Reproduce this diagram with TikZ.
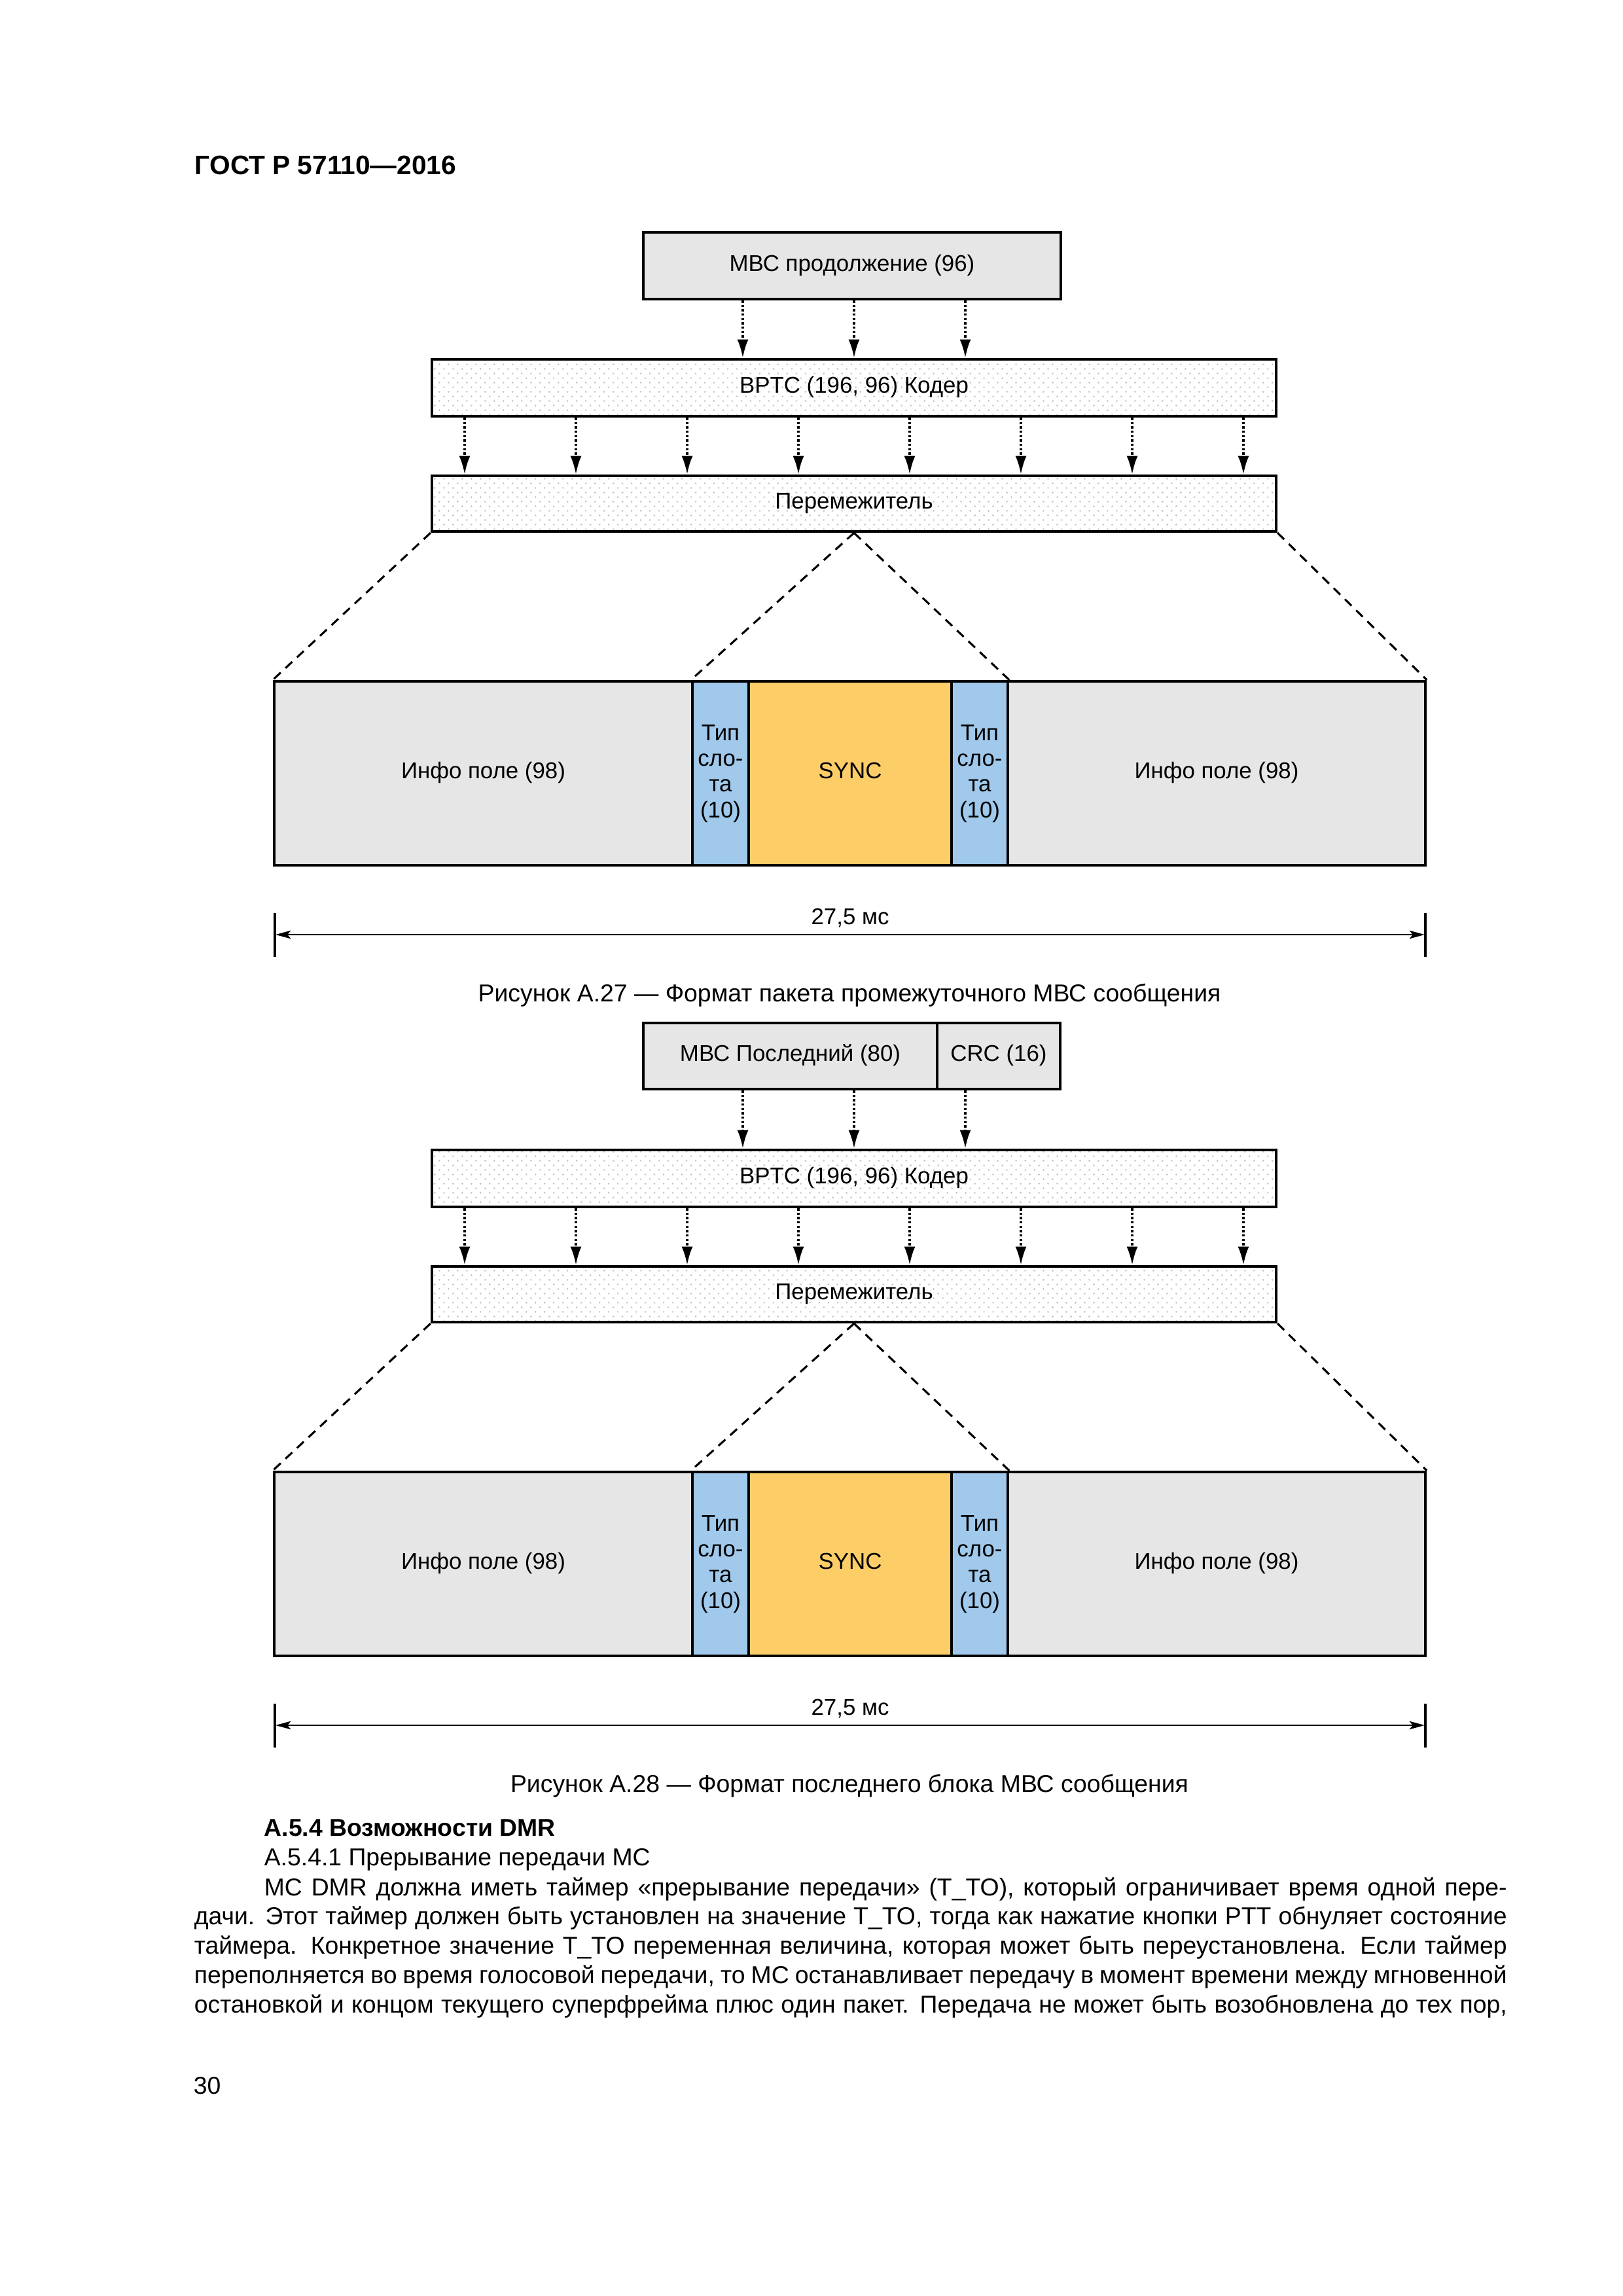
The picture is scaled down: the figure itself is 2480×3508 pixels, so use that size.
\documentclass[tikz,border=0pt]{standalone}
\usepackage{fontspec}
\setmainfont{Liberation Sans}
\usetikzlibrary{arrows.meta,patterns,calc}
\definecolor{boxgray}{RGB}{230,230,230}
\definecolor{slotblue}{RGB}{160,201,235}
\definecolor{syncyel}{RGB}{253,205,104}
\pgfdeclarepatternformonly{stagdots}{\pgfqpoint{-0.4pt}{-0.4pt}}{\pgfqpoint{2.1pt}{2.1pt}}{\pgfqpoint{3.37pt}{3.37pt}}{%
  \pgfpathcircle{\pgfqpoint{0pt}{0pt}}{0.34pt}%
  \pgfpathcircle{\pgfqpoint{1.685pt}{1.685pt}}{0.34pt}%
  \pgfusepath{fill}}
% \boxat{name}{x1}{y1}{x2}{y2}{style}{text}
\newcommand\boxat[7]{\node[#6, minimum width={((#4)-(#2))*0.24093pt}, minimum height={((#5)-(#3))*0.24093pt}, anchor=center] (#1) at ({((#2)+(#4))/2},{((#3)+(#5))/2}) {#7};}
\newcommand\figbody[2]{%
  \boxat{#1bptc}{660}{549+#2}{1950}{636+#2}{dotbox}{BPTC (196, 96) Кодер}
  \boxat{#1intl}{660}{727+#2}{1950}{812+#2}{dotbox}{Перемежитель}
  \foreach \xx [count=\i] in {710,880,1050,1220,1390,1560,1730,1900}{
    \coordinate (#1ax\i) at (\xx,0);
    \draw[flow] (#1bptc.south -| #1ax\i) -- (#1intl.north -| #1ax\i);
  }
  \boxat{#1infoL}{419}{1041+#2}{1058}{1322+#2}{graybox}{Инфо поле (98)}
  \boxat{#1blueL}{1058}{1041+#2}{1144}{1322+#2}{bluebox}{}
  \boxat{#1sync}{1144}{1041+#2}{1454}{1322+#2}{syncbox}{SYNC}
  \boxat{#1blueR}{1454}{1041+#2}{1540}{1322+#2}{bluebox}{}
  \boxat{#1infoR}{1540}{1041+#2}{2178}{1322+#2}{graybox}{Инфо поле (98)}
  \node[slot] (#1tl1) at (1101,1131+#2) {Тип};
  \node[slot] (#1tl2) at (1101,1170+#2) {сло-};
  \node[slot] (#1tl3) at (1101,1209+#2) {та};
  \node[slot] (#1tl4) at (1101,1249+#2) {(10)};
  \node[slot] (#1tr1) at (1497,1131+#2) {Тип};
  \node[slot] (#1tr2) at (1497,1170+#2) {сло-};
  \node[slot] (#1tr3) at (1497,1209+#2) {та};
  \node[slot] (#1tr4) at (1497,1249+#2) {(10)};
  \draw[zoomline] (#1intl.south west) -- (#1infoL.north west);
  \draw[zoomline] (#1intl.south) -- (#1blueL.north west);
  \draw[zoomline] (#1intl.south) -- (#1blueR.north east);
  \draw[zoomline] (#1intl.south east) -- (#1infoR.north east);
  \coordinate (#1tka) at (420,1395+#2);
  \coordinate (#1tkb) at (420,1462+#2);
  \coordinate (#1tkc) at (2178,1395+#2);
  \coordinate (#1tkd) at (2178,1462+#2);
  \coordinate (#1dl) at (421,1428+#2);
  \coordinate (#1dr) at (2177,1428+#2);
  \draw[tickline] (#1tka) -- (#1tkb);
  \draw[tickline] (#1tkc) -- (#1tkd);
  \draw[dimline] (#1dl) -- (#1dr);
  \node[lblbase] (#1dimlbl) at (1299,1412+#2) {27,5 мс};
}
\begin{document}
\begin{tikzpicture}[x=0.24093pt,y=-0.24093pt,
  box/.style={draw=black, line width=1.05pt, inner sep=0pt, font=\fontsize{8.4}{10}\selectfont, text height=0.7em, text depth=0.3em},
  graybox/.style={box, fill=boxgray},
  bluebox/.style={box, fill=slotblue},
  syncbox/.style={box, fill=syncyel},
  dotbox/.style={box, pattern=stagdots, pattern color=black!24},
  slot/.style={font=\fontsize{8.4}{10}\selectfont, inner sep=0pt, anchor=base},
  lblbase/.style={font=\fontsize{8.4}{10}\selectfont, inner sep=0pt, anchor=base},
  flow/.style={line width=0.8pt, dash pattern=on 0.8pt off 0.8pt, -{Latex[length=6.8pt,width=4.1pt]}},
  zoomline/.style={line width=0.75pt, dash pattern=on 3.4pt off 2.4pt},
  dimline/.style={line width=0.65pt, {Stealth[length=5.6pt,width=3pt,inset=1.2pt]}-{Stealth[length=5.6pt,width=3pt,inset=1.2pt]}},
  tickline/.style={line width=0.75pt},
  figcaption/.style={font=\fontsize{9}{11}\selectfont, inner sep=0pt, anchor=base},
  bodytext/.style={font=\fontsize{9}{11}\selectfont, inner sep=0pt, anchor=base west},
]
\useasboundingbox[fill=white] (0,0) rectangle (2480,3508);
% header
\node[anchor=base west, inner sep=0pt, font=\fontsize{9.8}{12}\selectfont\bfseries] (hdr) at (297,266) {ГОСТ Р 57110—2016};
% figure A.27
\boxat{mbc}{983}{355}{1621}{457}{graybox}{МВС продолжение (96)}
\figbody{a}{0}
\foreach \xx [count=\i] in {1135,1305,1475}{
  \coordinate (tx\i) at (\xx,0);
  \draw[flow] (mbc.south -| tx\i) -- (abptc.north -| tx\i);
}
\node[figcaption] (cap1) at (1298,1530) {Рисунок А.27 — Формат пакета промежуточного МВС сообщения};
% figure A.28
\boxat{mbcl}{983}{1563}{1432}{1664}{graybox}{МВС Последний (80)}
\boxat{crc}{1432}{1563}{1620}{1664}{graybox}{CRC (16)}
\figbody{b}{1208}
\coordinate (ux1) at (1135,0);
\coordinate (ux2) at (1305,0);
\coordinate (ux3) at (1475,0);
\draw[flow] (mbcl.south -| ux1) -- (bbptc.north -| ux1);
\draw[flow] (mbcl.south -| ux2) -- (bbptc.north -| ux2);
\draw[flow] (crc.south -| ux3) -- (bbptc.north -| ux3);
\node[figcaption] (cap2) at (1298,2738) {Рисунок А.28 — Формат последнего блока МВС сообщения};
% body text
\node[bodytext, font=\fontsize{9}{11}\selectfont\bfseries] (h1) at (403,2805) {А.5.4 Возможности DMR};
\node[bodytext] (h2) at (403,2850) {А.5.4.1 Прерывание передачи МС};
\node[bodytext] (l1) at (403,2896) {\makebox[457.5pt][s]{МС DMR должна иметь таймер «прерывание передачи» (T\_TO), который ограничивает время одной пере-}};
\node[bodytext] (l2) at (296,2940) {\makebox[483.3pt][s]{дачи. Этот таймер должен быть установлен на значение T\_TO, тогда как нажатие кнопки PTT обнуляет состояние}};
\node[bodytext] (l3) at (296,2985) {\makebox[483.3pt][s]{таймера. Конкретное значение T\_TO переменная величина, которая может быть переустановлена. Если таймер}};
\node[bodytext] (l4) at (296,3030) {\makebox[483.3pt][s]{переполняется во время голосовой передачи, то МС останавливает передачу в момент времени между мгновенной}};
\node[bodytext] (l5) at (296,3075) {\makebox[483.3pt][s]{остановкой и концом текущего суперфрейма плюс один пакет. Передача не может быть возобновлена до тех пор,}};
\node[bodytext] (pg) at (295,3199) {30};
\end{tikzpicture}
\end{document}
